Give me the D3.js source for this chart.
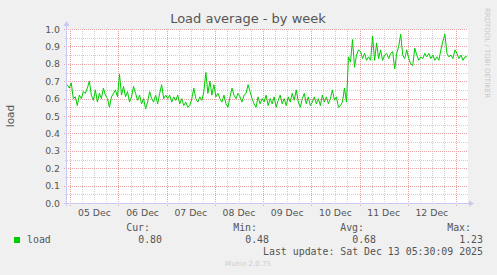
<!DOCTYPE html>
<html>
<head>
<meta charset="utf-8">
<script src="https://cdn.jsdelivr.net/npm/d3@7"></script>
<style>
body { margin: 0; background: #f0f0f0; }
svg { display: block; }
</style>
</head>
<body>
<svg width="497" height="275"></svg>
<script>
var svg = d3.select('svg');
var width = +svg.attr("width");
var height = +svg.attr("height");

// hourly averages, first sample at 2025-12-04 22:30
var firstSample = new Date(2025, 11, 4, 22, 30);
var loadValues = [
    0.68, 0.66,
    /* 05 Dec */
    0.69, 0.60, 0.61, 0.56, 0.62, 0.60, 0.64, 0.63, 0.66, 0.70, 0.62, 0.59,
    0.65, 0.58, 0.63, 0.60, 0.66, 0.62, 0.60, 0.55, 0.61, 0.63, 0.65, 0.61,
    /* 06 Dec */
    0.74, 0.62, 0.67, 0.61, 0.64, 0.58, 0.61, 0.67, 0.63, 0.59, 0.62, 0.57,
    0.60, 0.54, 0.58, 0.64, 0.60, 0.58, 0.62, 0.57, 0.63, 0.68, 0.60, 0.62,
    /* 07 Dec */
    0.60, 0.62, 0.58, 0.61, 0.59, 0.62, 0.57, 0.60, 0.56, 0.58, 0.55, 0.56,
    0.60, 0.66, 0.60, 0.58, 0.61, 0.59, 0.64, 0.75, 0.63, 0.70, 0.62, 0.68,
    /* 08 Dec */
    0.61, 0.63, 0.60, 0.58, 0.62, 0.57, 0.55, 0.61, 0.66, 0.62, 0.60, 0.63,
    0.61, 0.58, 0.62, 0.63, 0.68, 0.64, 0.60, 0.57, 0.55, 0.61, 0.57, 0.60,
    /* 09 Dec */
    0.58, 0.62, 0.56, 0.60, 0.57, 0.61, 0.55, 0.59, 0.62, 0.57, 0.60, 0.56,
    0.61, 0.58, 0.63, 0.59, 0.65, 0.58, 0.55, 0.60, 0.63, 0.57, 0.61, 0.56,
    /* 10 Dec */
    0.58, 0.61, 0.57, 0.60, 0.56, 0.62, 0.58, 0.61, 0.57, 0.60, 0.65, 0.59,
    0.61, 0.55, 0.56, 0.58, 0.66, 0.58, 0.84, 0.81, 0.94, 0.78, 0.85, 0.88,
    /* 11 Dec */
    0.87, 0.83, 0.86, 0.82, 0.84, 0.82, 0.96, 0.82, 0.92, 0.83, 0.88, 0.82,
    0.85, 0.86, 0.83, 0.86, 0.87, 0.77, 0.86, 0.90, 0.97, 0.85, 0.83, 0.88,
    /* 12 Dec */
    0.83, 0.80, 0.79, 0.89, 0.85, 0.82, 0.84, 0.83, 0.86, 0.84, 0.86, 0.83,
    0.85, 0.82, 0.84, 0.82, 0.88, 0.93, 0.97, 0.86, 0.84, 0.85, 0.83, 0.88,
    /* 13 Dec */
    0.86, 0.83, 0.85, 0.82, 0.84, 0.84
];

var yTicks = [0, 0.1, 0.2, 0.3, 0.4, 0.5, 0.6, 0.7, 0.8, 0.9, 1.0];
var yMinorTicks = [0.05, 0.15, 0.25, 0.35, 0.45, 0.55, 0.65, 0.75, 0.85, 0.95];
var dayLabels = ["05 Dec", "06 Dec", "07 Dec", "08 Dec", "09 Dec", "10 Dec", "11 Dec", "12 Dec"];

var legendHeads = ["Cur:", "Min:", "Avg:", "Max:"];
var legendValues = ["0.80", "0.48", "0.68", "1.23"];
var lastUpdate = "Last update: Sat Dec 13 05:30:09 2025";

var plot = {left: 67, right: 468, top: 29, bottom: 203};

var x = d3.scaleTime()
    .domain([new Date(2025, 11, 4, 22, 22), new Date(2025, 11, 13, 6, 0)])
    .range([plot.left, plot.right]);

var y = d3.scaleLinear()
    .domain([0, 1])
    .range([plot.bottom, plot.top]);

var data = loadValues.map(function(v, i) {
    return {t: d3.timeHour.offset(firstSample, i), v: v};
});

var sans = "DejaVu Sans, sans-serif";
var mono = "DejaVu Sans Mono, monospace";
var textColor = "#555";

// canvas
svg.append("rect")
    .attr("x", plot.left)
    .attr("y", plot.top)
    .attr("width", plot.right - plot.left)
    .attr("height", plot.bottom - plot.top)
    .attr("fill", "#fff");

var grid = svg.append("g");

var minorX = d3.timeHour.every(6).range(x.domain()[0], x.domain()[1]);
var majorX = d3.timeDay.range(x.domain()[0], x.domain()[1]);

function crisp(v) { return Math.round(v) + 0.5; }

// minor verticals
grid.selectAll("line.mx")
    .data(minorX)
    .enter()
    .append("line")
    .attr("x1", function(d) { return crisp(x(d)); })
    .attr("x2", function(d) { return crisp(x(d)); })
    .attr("y1", plot.top)
    .attr("y2", plot.bottom + 2)
    .attr("stroke", "#cfcfcf")
    .attr("stroke-dasharray", "1,1");

// minor horizontals
grid.selectAll("line.my")
    .data(yMinorTicks)
    .enter()
    .append("line")
    .attr("x1", plot.left - 2)
    .attr("x2", plot.right)
    .attr("y1", function(d) { return crisp(y(d)); })
    .attr("y2", function(d) { return crisp(y(d)); })
    .attr("stroke", "#cfcfcf")
    .attr("stroke-dasharray", "1,1");

// major verticals
grid.selectAll("line.Mx")
    .data(majorX)
    .enter()
    .append("line")
    .attr("x1", function(d) { return crisp(x(d)); })
    .attr("x2", function(d) { return crisp(x(d)); })
    .attr("y1", plot.top)
    .attr("y2", plot.bottom + 3)
    .attr("stroke", "#e8a4a4")
    .attr("stroke-dasharray", "1,1");

// major horizontals
grid.selectAll("line.My")
    .data(yTicks)
    .enter()
    .append("line")
    .attr("x1", plot.left - 3)
    .attr("x2", plot.right)
    .attr("y1", function(d) { return crisp(y(d)); })
    .attr("y2", function(d) { return crisp(y(d)); })
    .attr("stroke", "#e8a4a4")
    .attr("stroke-dasharray", "1,1");

// axes
var axisColor = "#c8c8f4";
svg.append("line")
    .attr("x1", plot.left - 3).attr("x2", plot.right + 1)
    .attr("y1", crisp(y(0))).attr("y2", crisp(y(0)))
    .attr("stroke", axisColor);
svg.append("line")
    .attr("x1", crisp(plot.left - 1)).attr("x2", crisp(plot.left - 1))
    .attr("y1", plot.bottom + 3).attr("y2", plot.top - 3)
    .attr("stroke", axisColor);
svg.append("path")
    .attr("d", "M" + (plot.right + 1) + "," + (crisp(y(0)) - 3) +
        "L" + (plot.right + 6) + "," + crisp(y(0)) +
        "L" + (plot.right + 1) + "," + (crisp(y(0)) + 3) + "Z")
    .attr("fill", axisColor);
svg.append("path")
    .attr("d", "M" + (crisp(plot.left - 1) - 3) + "," + (plot.top - 3) +
        "L" + crisp(plot.left - 1) + "," + (plot.top - 8) +
        "L" + (crisp(plot.left - 1) + 3) + "," + (plot.top - 3) + "Z")
    .attr("fill", axisColor);

// y labels
svg.append("g")
    .selectAll("text")
    .data(yTicks)
    .enter()
    .append("text")
    .attr("x", 60)
    .attr("y", function(d) { return y(d) + 3.5; })
    .attr("text-anchor", "end")
    .attr("font-family", sans)
    .attr("font-size", "9.3px")
    .attr("fill", textColor)
    .text(function(d) { return d3.format(".1f")(d); });

// x labels, centred on noon
svg.append("g")
    .selectAll("text")
    .data(dayLabels)
    .enter()
    .append("text")
    .attr("x", function(d, i) { return x(d3.timeHour.offset(majorX[i], 12)); })
    .attr("y", 216)
    .attr("text-anchor", "middle")
    .attr("font-family", sans)
    .attr("font-size", "9.3px")
    .attr("fill", textColor)
    .text(function(d) { return d; });

// series
var line = d3.line()
    .x(function(d) { return x(d.t); })
    .y(function(d) { return y(d.v); });

svg.append("path")
    .datum(data)
    .attr("d", line)
    .attr("fill", "none")
    .attr("stroke", "#00cc00")
    .attr("stroke-width", 1);

// title and axis title
svg.append("text")
    .attr("x", 248)
    .attr("y", 23)
    .attr("text-anchor", "middle")
    .attr("font-family", sans)
    .attr("font-size", "13px")
    .attr("fill", textColor)
    .text("Load average - by week");

svg.append("text")
    .attr("transform", "translate(14," + ((plot.top + plot.bottom) / 2) + ") rotate(-90)")
    .attr("text-anchor", "middle")
    .attr("font-family", sans)
    .attr("font-size", "10.5px")
    .attr("fill", textColor)
    .text("load");

svg.append("text")
    .attr("transform", "translate(485,53) rotate(90)")
    .attr("text-anchor", "middle")
    .attr("font-family", sans)
    .attr("font-size", "7px")
    .attr("fill", "#c8c8c8")
    .text("RRDTOOL / TOBI OETIKER");

// legend
svg.append("rect")
    .attr("x", 14).attr("y", 237)
    .attr("width", 6).attr("height", 6)
    .attr("fill", "#00cc00");

svg.append("text")
    .attr("x", 27).attr("y", 243)
    .attr("font-family", mono)
    .attr("font-size", "9.9px")
    .attr("fill", textColor)
    .text("load");

var valueEnds = [162, 269, 376, 483];

svg.append("g")
    .selectAll("text")
    .data(legendHeads)
    .enter()
    .append("text")
    .attr("x", function(d, i) { return valueEnds[i] - 12; })
    .attr("y", 231)
    .attr("text-anchor", "end")
    .attr("font-family", mono)
    .attr("font-size", "9.9px")
    .attr("fill", textColor)
    .text(function(d) { return d; });

svg.append("g")
    .selectAll("text")
    .data(legendValues)
    .enter()
    .append("text")
    .attr("x", function(d, i) { return valueEnds[i]; })
    .attr("y", 243)
    .attr("text-anchor", "end")
    .attr("font-family", mono)
    .attr("font-size", "9.9px")
    .attr("fill", textColor)
    .text(function(d) { return d; });

svg.append("text")
    .attr("x", 483).attr("y", 255)
    .attr("text-anchor", "end")
    .attr("font-family", mono)
    .attr("font-size", "9.9px")
    .attr("fill", textColor)
    .text(lastUpdate);

svg.append("text")
    .attr("x", 248).attr("y", 266)
    .attr("text-anchor", "middle")
    .attr("font-family", sans)
    .attr("font-size", "7px")
    .attr("fill", "#cccccc")
    .text("Munin 2.0.75");
</script>
</body>
</html>
